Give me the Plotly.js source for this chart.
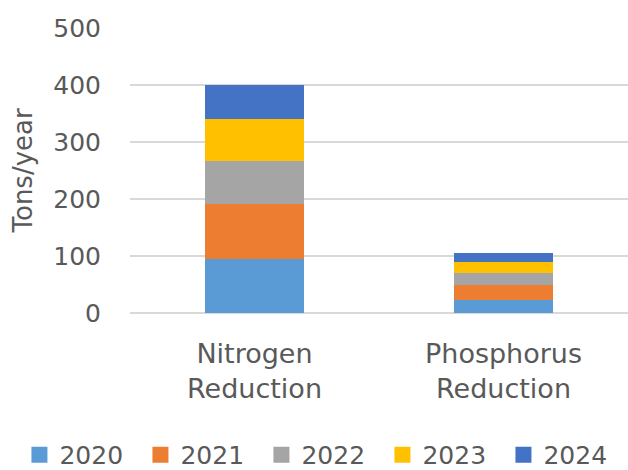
<!DOCTYPE html>
<html>
<head>
<meta charset="utf-8">
<script src="https://cdn.plot.ly/plotly-3.0.1.min.js"></script>
<style>html,body{margin:0;padding:0;background:#fff;}#chart{width:628px;height:470px;}</style>
</head>
<body>
<div id="chart"></div>
<script>
const categories = ["Nitrogen<br>Reduction", "Phosphorus<br>Reduction"];
const years = ["2020", "2021", "2022", "2023", "2024"];
const v2020 = [94, 23];
const v2021 = [97, 26];
const v2022 = [76, 21];
const v2023 = [73, 20];
const v2024 = [60, 16];
const yTicks = [0, 100, 200, 300, 400, 500];

const seriesValues = [v2020, v2021, v2022, v2023, v2024];
const colors = ["#5B9BD5", "#ED7D31", "#A5A5A5", "#FFC000", "#4472C4"];
const FONT = "DejaVu Sans, sans-serif";
const GREY = "#595959";

const bars = years.map((y, i) => ({
  type: "bar",
  name: y,
  legendgroup: y,
  showlegend: false,
  x: categories,
  y: seriesValues[i],
  marker: {color: colors[i], line: {width: 0}},
  hoverinfo: "skip"
}));
// legend entries (square swatches), no visible marks on the plot
const legendEntries = years.map((y, i) => ({
  type: "scatter",
  mode: "markers",
  name: y,
  legendgroup: y,
  x: [null],
  y: [null],
  marker: {symbol: "square", size: 18, color: colors[i], line: {width: 0}},
  hoverinfo: "skip"
}));

const layout = {
  width: 628, height: 470,
  margin: {l: 130, r: 0, t: 28, b: 157, autoexpand: false},
  barmode: "stack",
  bargap: 0.6,
  paper_bgcolor: "#ffffff",
  plot_bgcolor: "#ffffff",
  font: {family: FONT, color: GREY, size: 25},
  xaxis: {
    showgrid: false, zeroline: false, showline: false, ticks: "",
    tickfont: {family: FONT, size: 27, color: GREY},
    ticklabelstandoff: 22
  },
  yaxis: {
    range: [0, 500], tickvals: yTicks, ticktext: yTicks.map(String),
    showgrid: true, gridcolor: "#D9D9D9", gridwidth: 1.5,
    zeroline: true, zerolinecolor: "#D9D9D9", zerolinewidth: 1.5,
    showline: false, ticks: "",
    tickfont: {family: FONT, size: 25, color: GREY},
    ticklabelstandoff: 28
  },
  annotations: [{
    text: "Tons/year", xref: "paper", yref: "paper",
    x: -0.2149, y: 0.5, xanchor: "center", yanchor: "middle",
    textangle: -90, showarrow: false,
    font: {family: FONT, size: 26, color: GREY}
  }],
  showlegend: true,
  legend: {
    orientation: "h", xref: "paper", yref: "paper",
    x: -0.222, xanchor: "left", y: -0.498, yanchor: "middle",
    font: {family: FONT, size: 25, color: GREY},
    traceorder: "normal", itemwidth: 30, itemsizing: "trace",
    entrywidth: 76, entrywidthmode: "pixels"
  }
};

Plotly.newPlot("chart", bars.concat(legendEntries), layout, {displayModeBar: false, staticPlot: true});
</script>
</body>
</html>
